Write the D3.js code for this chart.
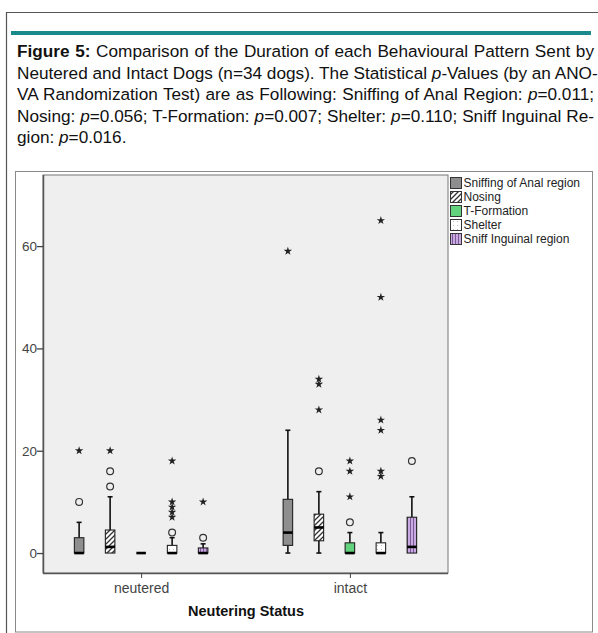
<!DOCTYPE html>
<html><head><meta charset="utf-8">
<script src="https://cdn.jsdelivr.net/npm/d3@7"></script>
<style>
html,body{margin:0;padding:0;background:#fff;}
body{width:598px;height:633px;position:relative;overflow:hidden;font-family:"Liberation Sans",Arial,sans-serif;}
#cap{position:absolute;left:17px;top:41px;width:577px;font-size:17.2px;line-height:21.5px;color:#111;}
#cap div{text-align:justify;text-align-last:justify;white-space:nowrap;}
#cap div.last{text-align-last:left;}
svg{position:absolute;left:0;top:0;}
</style></head><body>
<svg id="chart" width="598" height="633"></svg>
<div id="cap">
<div><b>Figure 5:</b> Comparison of the Duration of each Behavioural Pattern Sent by</div>
<div>Neutered and Intact Dogs (n=34 dogs). The Statistical <i>p</i>-Values (by an ANO-</div>
<div>VA Randomization Test) are as Following: Sniffing of Anal Region: <i>p</i>=0.011;</div>
<div>Nosing: <i>p</i>=0.056; T-Formation: <i>p</i>=0.007; Shelter: <i>p</i>=0.110; Sniff Inguinal Re-</div>
<div class="last">gion: <i>p</i>=0.016.</div>
</div>
<script>
// ---- data ----
const groups = ["neutered", "intact"];
const series = ["Sniffing of Anal region", "Nosing", "T-Formation", "Shelter", "Sniff Inguinal region"];
const yTicks = [0, 20, 40, 60];
// [group][series]
const q1      = [[0, 0, 0, 0, 0],   [1.5, 2.4, 0, 0, 0]];
const median  = [[0, 1.2, 0, 0, 0], [4, 5, 0, 0, 1.2]];
const q3      = [[3, 4.5, 0, 1.5, 1], [10.5, 7.6, 2, 2, 7]];
const whiskLo = [[0, 0, 0, 0, 0],   [0, 0, 0, 0, 0]];
const whiskHi = [[6, 11, 0, 3, 1.8], [24, 12, 4, 4, 11]];
const outlierCircles = [
  [[10], [13, 16], [], [4], [3]],
  [[], [16], [6], [], [18]]
];
const outlierStars = [
  [[20], [20], [], [7, 8, 9, 10, 18], [10]],
  [[59], [28, 33, 34], [11, 16, 18], [15, 16, 24, 26, 50, 65], []]
];

// ---- drawing ----
(function(){
const svg = d3.select("#chart");
const defs = svg.append("defs");
const pN = defs.append("pattern").attr("id","pNosing").attr("patternUnits","userSpaceOnUse").attr("width",5).attr("height",5);
pN.append("rect").attr("width",5).attr("height",5).attr("fill","#fff");
pN.append("path").attr("d","M-1,6 L6,-1 M-1,1 L1,-1 M4,6 L6,4").attr("stroke","#333").attr("stroke-width",1.3);
const pS = defs.append("pattern").attr("id","pShelter").attr("patternUnits","userSpaceOnUse").attr("width",4).attr("height",4);
pS.append("rect").attr("width",4).attr("height",4).attr("fill","#fff");
pS.append("rect").attr("x",1).attr("y",1).attr("width",1).attr("height",1).attr("fill","#bbb");
const pI = defs.append("pattern").attr("id","pIng").attr("patternUnits","userSpaceOnUse").attr("width",3).attr("height",3);
pI.append("rect").attr("width",3).attr("height",3).attr("fill","#c9a9e2");
pI.append("rect").attr("x",2).attr("width",1).attr("height",3).attr("fill","#7d5a94");
const fills = ["#8e8e8e", "url(#pNosing)", "#63d27c", "url(#pShelter)", "url(#pIng)"];

svg.append("path").attr("d","M6.5,640 V12.5 H598").attr("fill","none").attr("stroke","#555").attr("stroke-width",1.2);
svg.append("rect").attr("x",11).attr("y",31).attr("width",580).attr("height",4).attr("fill","#1b8a8c");
svg.append("rect").attr("x",15.5).attr("y",171.5).attr("width",577).attr("height",460.5).attr("fill","#fff").attr("stroke","#8a8a8a");

const pL = 43, pR = 448, pT = 175, pB = 573;
const y = d3.scaleLinear().domain([-3.9, 73.9]).range([pB, pT]);
const x = d3.scalePoint().domain(groups).range([pL, pR]).padding(0.47);
const xs = d3.scalePoint().domain(series).range([-62, 62]);

svg.append("rect").attr("x",pL).attr("y",pT).attr("width",pR-pL).attr("height",pB-pT)
  .attr("fill","#efefef").attr("stroke","#777").attr("stroke-width",1);

const yAx = svg.append("g").attr("transform",`translate(${pL},0)`)
  .call(d3.axisLeft(y).tickValues(yTicks).tickSize(6).tickSizeOuter(0).tickFormat(d3.format("d")));
yAx.select(".domain").attr("d",`M0.5,${pT}V${pB}`).attr("stroke","#555").attr("stroke-width",1.5);
yAx.selectAll(".tick line").attr("stroke","#444").attr("stroke-width",1.3);
yAx.selectAll(".tick text").attr("fill","#444").attr("font-size",13.5).attr("x",-6)
  .attr("font-family","'Liberation Sans',Arial,sans-serif");

const xAx = svg.append("g").attr("transform",`translate(0,${pB})`)
  .call(d3.axisBottom(x).tickSize(5).tickSizeOuter(0));
xAx.select(".domain").attr("d",`M${pL},0.5H${pR}`).attr("stroke","#555").attr("stroke-width",1.5);
xAx.selectAll(".tick line").attr("stroke","#444");
xAx.selectAll(".tick text").attr("fill","#444").attr("font-size",14).attr("dy","0.95em").attr("y",7)
  .attr("font-family","'Liberation Sans',Arial,sans-serif");

svg.append("text").attr("x",246).attr("y",616).attr("text-anchor","middle")
  .attr("font-size",14.5).attr("font-weight","bold").attr("fill","#111")
  .attr("font-family","'Liberation Sans',Arial,sans-serif").text("Neutering Status");

const bw = 9.5, cw = 5;
const star = d3.symbol().type(d3.symbolStar).size(22);
groups.forEach((g, gi) => {
  series.forEach((s, si) => {
    const cx = x(g) + xs(s);
    const G = svg.append("g");
    if (whiskHi[gi][si] > q3[gi][si]) {
      G.append("line").attr("x1",cx).attr("x2",cx).attr("y1",y(q3[gi][si])).attr("y2",y(whiskHi[gi][si])).attr("stroke","#111").attr("stroke-width",1.6);
      G.append("line").attr("x1",cx-cw/2).attr("x2",cx+cw/2).attr("y1",y(whiskHi[gi][si])).attr("y2",y(whiskHi[gi][si])).attr("stroke","#111").attr("stroke-width",1.6);
    }
    if (whiskLo[gi][si] < q1[gi][si]) {
      G.append("line").attr("x1",cx).attr("x2",cx).attr("y1",y(q1[gi][si])).attr("y2",y(whiskLo[gi][si])).attr("stroke","#111").attr("stroke-width",1.6);
      G.append("line").attr("x1",cx-cw/2).attr("x2",cx+cw/2).attr("y1",y(whiskLo[gi][si])).attr("y2",y(whiskLo[gi][si])).attr("stroke","#111").attr("stroke-width",1.6);
    }
    const h = y(q1[gi][si]) - y(q3[gi][si]);
    if (h > 0) {
      G.append("rect").attr("x",cx-bw/2).attr("y",y(q3[gi][si])).attr("width",bw).attr("height",h)
        .attr("fill",fills[si]).attr("stroke","#222").attr("stroke-width",1.1);
    }
    G.append("line").attr("x1",cx-bw/2).attr("x2",cx+bw/2).attr("y1",y(median[gi][si])).attr("y2",y(median[gi][si]))
      .attr("stroke","#000").attr("stroke-width",2.6);
    outlierCircles[gi][si].forEach(v => {
      G.append("circle").attr("cx",cx).attr("cy",y(v)).attr("r",3.4).attr("fill","none").attr("stroke","#333").attr("stroke-width",1.2);
    });
    outlierStars[gi][si].forEach(v => {
      G.append("path").attr("d",star).attr("transform",`translate(${cx},${y(v)})`).attr("fill","#222");
    });
  });
});

const leg = svg.append("g");
series.forEach((s, i) => {
  const ly = 183 + i * 14;
  leg.append("rect").attr("x",450.5).attr("y",ly-5.5).attr("width",11).attr("height",11)
    .attr("fill",fills[i]).attr("stroke","#333").attr("stroke-width",1);
  leg.append("text").attr("x",463.5).attr("y",ly).attr("dy","0.35em").attr("font-size",12).attr("fill","#222")
    .attr("font-family","'Liberation Sans',Arial,sans-serif").text(s);
});
})();
</script>
</body></html>
